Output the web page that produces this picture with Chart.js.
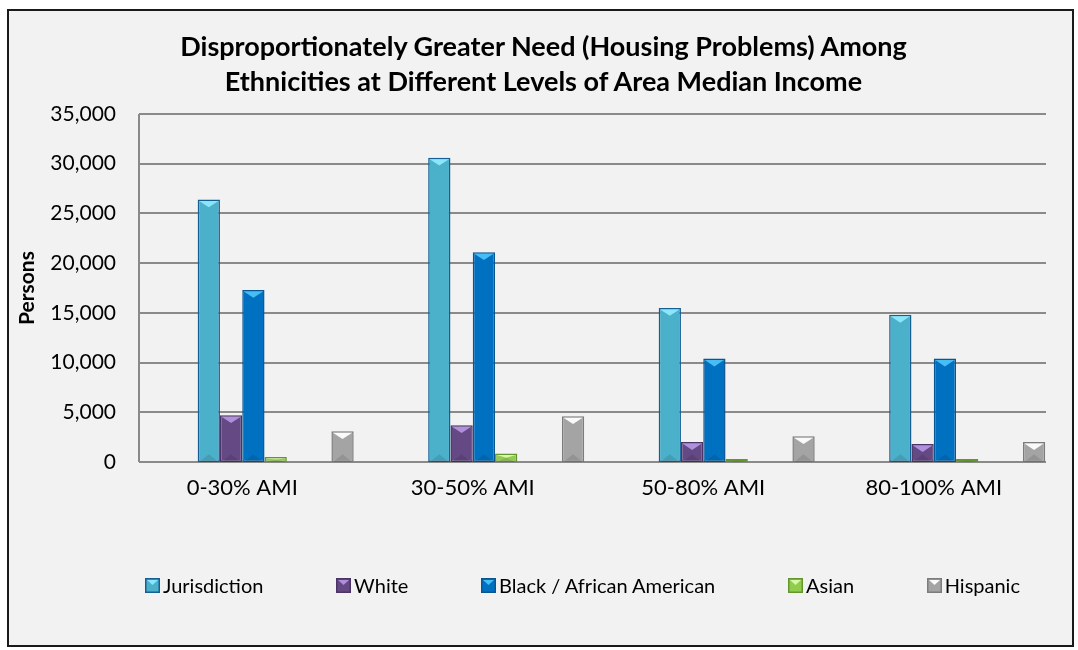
<!DOCTYPE html>
<html>
<head>
<meta charset="utf-8">
<script src="https://cdn.jsdelivr.net/npm/chart.js@4.4.1/dist/chart.umd.min.js"></script>
<style>
  html, body { margin: 0; padding: 0; background: #fff; }
  body { width: 1078px; height: 650px; position: relative; overflow: hidden; font-family: Lato, "Noto Sans", sans-serif; }
  #frame { position: absolute; left: 7px; top: 9px; width: 1063px; height: 634px; background: #f2f2f2; border: 2px solid #1a1a1a; }
  #chart { position: absolute; left: 0; top: 0; }
  #title { position: absolute; left: 0; top: 28px; width: 1087px; text-align: center; font-weight: bold; font-size: 27px; line-height: 35px; color: #000; }
  #legend { position: absolute; left: 145px; top: 574px; width: 875px; display: flex; justify-content: space-between; font-size: 20px; line-height: 22px; color: #000; }
  #legend span { display: flex; align-items: center; }
  #legend canvas { margin-right: 3px; }
</style>
</head>
<body>
<div id="frame"></div>
<canvas id="chart" width="1078" height="650"></canvas>
<div id="title">Disproportionately Greater Need (Housing Problems) Among<br>Ethnicities at Different Levels of Area Median Income</div>
<div id="legend"></div>
<script>
// income bands and persons with housing problems per group
var categories = ['0-30% AMI', '30-50% AMI', '50-80% AMI', '80-100% AMI'];
var jurisdiction = [26400, 30600, 15500, 14800];
var white = [4700, 3700, 2000, 1800];
var black = [17300, 21100, 10400, 10400];
var asian = [500, 850, 300, 300];
var hispanic = [3100, 4600, 2600, 2000];
var yMax = 35000;
var yStep = 5000;

var series = [
	{ label: 'Jurisdiction', data: jurisdiction, fill: '#4bb0ca', edge: '#155f94', light: '#8ae6fa' },
	{ label: 'White', data: white, fill: '#644984', edge: '#4a3566', light: '#b08fdc' },
	{ label: 'Black / African American', data: black, fill: '#0071c1', edge: '#0a5690', light: '#46bdf5' },
	{ label: 'Asian', data: asian, fill: '#90cc4e', edge: '#64962e', light: '#d9f7a8' },
	{ label: 'Hispanic', data: hispanic, fill: '#a4a4a4', edge: '#7c7c7c', light: '#fafafa' }
];

// empty slots keep the clusters where the workbook put them
var empty = categories.map(function () { return null; });
var slots = [null, null, null, 0, 1, 2, 3, null, null, 4];

var datasets = slots.map(function (s) {
	if (s === null) {
		return { label: '', data: empty, backgroundColor: 'rgba(0,0,0,0)' };
	}
	var d = series[s];
	return {
		label: d.label,
		data: d.data,
		backgroundColor: d.fill,
		borderColor: d.edge,
		borderWidth: 1.5,
		borderSkipped: false,
		light: d.light
	};
});

// bevelled top and bottom faces of each column
var bevel = {
	id: 'bevel',
	afterDatasetDraw: function (chart, args) {
		var ds = chart.data.datasets[args.index];
		if (!ds.light) return;
		var ctx = chart.ctx;
		args.meta.data.forEach(function (bar) {
			var p = bar.getProps(['x', 'y', 'base', 'width'], true);
			if (isNaN(p.y)) return;
			var l = p.x - p.width / 2 + 1.5, r = p.x + p.width / 2 - 1.5;
			var h = Math.min(p.width * 0.35, (p.base - p.y) / 2);
			ctx.save();
			ctx.fillStyle = ds.light;
			ctx.beginPath();
			ctx.moveTo(l, p.y + 1.5);
			ctx.lineTo(r, p.y + 1.5);
			ctx.lineTo(p.x, p.y + h);
			ctx.closePath();
			ctx.fill();
			ctx.fillStyle = 'rgba(0,0,0,0.10)';
			ctx.beginPath();
			ctx.moveTo(l, p.base);
			ctx.lineTo(r, p.base);
			ctx.lineTo(p.x, p.base - h);
			ctx.closePath();
			ctx.fill();
			ctx.restore();
		});
	}
};

// horizontal gridlines and the value axis line
var gridLines = {
	id: 'gridLines',
	beforeDatasetsDraw: function (chart) {
		var ctx = chart.ctx, area = chart.chartArea, y = chart.scales.y;
		var x1 = area.left + 12, x2 = area.right - 3;
		ctx.save();
		ctx.strokeStyle = '#8a8a8a';
		ctx.lineWidth = 2;
		y.ticks.forEach(function (t) {
			var py = Math.round(y.getPixelForValue(t.value));
			ctx.beginPath();
			ctx.moveTo(x1, py);
			ctx.lineTo(x2, py);
			ctx.stroke();
		});
		ctx.beginPath();
		ctx.moveTo(x1, Math.round(y.getPixelForValue(yMax)));
		ctx.lineTo(x1, Math.round(y.getPixelForValue(0)));
		ctx.stroke();
		ctx.restore();
	}
};

var ctx = document.getElementById('chart');
var myChart = new Chart(ctx, {
	type: 'bar',
	data: { labels: categories, datasets: datasets },
	options: {
		responsive: false,
		devicePixelRatio: 1,
		animation: false,
		events: [],
		categoryPercentage: 0.967,
		barPercentage: 1,
		layout: { padding: { left: 9, right: 29, top: 114, bottom: 128 } },
		plugins: {
			legend: { display: false },
			tooltip: { enabled: false }
		},
		scales: {
			x: {
				grid: { display: false, drawTicks: false },
				border: { display: false },
				ticks: { color: '#000', padding: 13, font: { family: 'Lato', size: 22 } },
				afterFit: function (s) { s.height = 60; }
			},
			y: {
				min: 0,
				max: yMax,
				grid: { display: false, drawTicks: false },
				border: { display: false },
				ticks: {
					stepSize: yStep,
					color: '#000',
					padding: 11,
					font: { family: 'Lato', size: 21 },
					callback: function (v) { return v.toLocaleString('en-US'); }
				},
				title: {
					display: true,
					text: 'Persons',
					color: '#000',
					padding: { top: 6, bottom: 0 },
					font: { family: 'Lato', size: 21, weight: 'bold' }
				},
				afterFit: function (s) { s.width = 118; }
			}
		}
	},
	plugins: [gridLines, bevel]
});

// legend built from the same series list
var legend = document.getElementById('legend');
series.forEach(function (d) {
	var item = document.createElement('span');
	var icon = document.createElement('canvas');
	icon.width = 15;
	icon.height = 15;
	var c = icon.getContext('2d');
	c.fillStyle = d.edge;
	c.fillRect(0, 0, 15, 15);
	c.fillStyle = d.fill;
	c.fillRect(1.5, 1.5, 12, 12);
	c.fillStyle = d.light;
	c.beginPath();
	c.moveTo(2, 2);
	c.lineTo(13, 2);
	c.lineTo(7.5, 7);
	c.closePath();
	c.fill();
	item.appendChild(icon);
	item.appendChild(document.createTextNode(d.label));
	legend.appendChild(item);
});
</script>
</body>
</html>
